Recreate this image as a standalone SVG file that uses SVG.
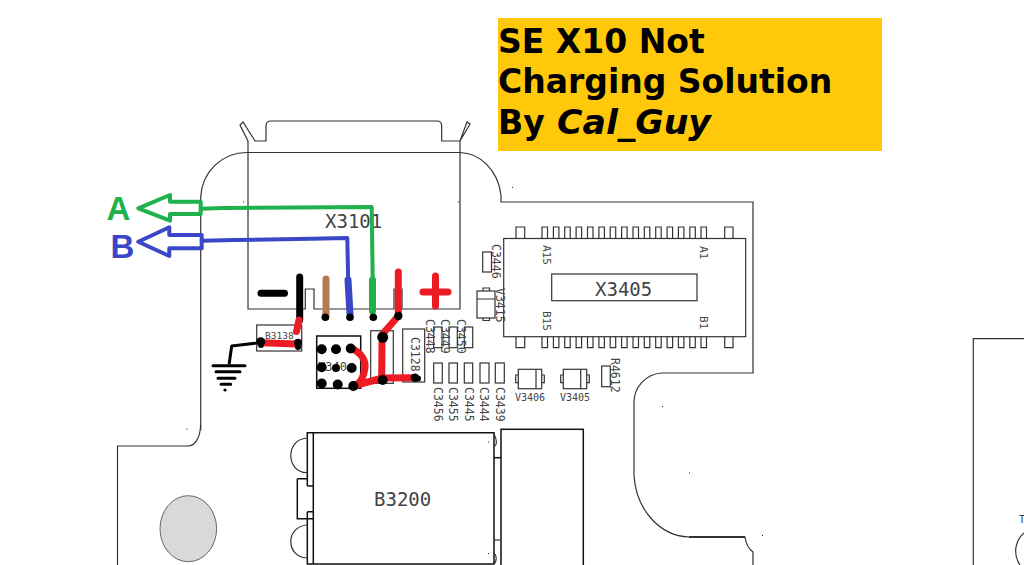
<svg xmlns="http://www.w3.org/2000/svg" width="1024" height="565" viewBox="0 0 1024 565">
<style>
.l{fill:none;stroke:#333;stroke-width:1.2}
.d{fill:none;stroke:#111;stroke-width:1.5}
.m{font-family:"DejaVu Sans Mono","Liberation Mono",monospace;fill:#444}
.big{font-size:19px}
.s{font-size:11.5px}
.t{font-family:"DejaVu Sans","Liberation Sans",sans-serif;font-weight:bold;font-size:33px;fill:#000}
.L{font-family:"Liberation Sans",Arial,sans-serif;font-weight:bold;font-size:33px}
.w{fill:none;stroke-linecap:round;stroke-linejoin:round}
.r{stroke:#ed1c24;stroke-width:7}
.k{stroke:#000;stroke-width:7}
.g{stroke:#1fb14c}
.b{stroke:#3a48c8}
</style>
<rect width="1024" height="565" fill="#fff"/>
<g id="board">
<path class="l" d="M200.7 430V197C202 172 222 152 248 152.5H460C480 153 498 170 501 195V202H753V373H662C645 374 634 388 634 402V475C636 510 660 536 689 537H745C746 544 749 549 753 552V565"/>
<path class="d" d="M689 537H745"/>
<path class="l" d="M200.7 425C200 438 195 446 188 446H117.5V565"/>
<path class="l" d="M973.3 565V338.7H1024"/>
<path class="l" d="M1024 533C1016 540 1012 553 1020 565"/>
<text x="1019" y="523" class="m" font-size="10">T</text>
<ellipse cx="188.3" cy="528.7" rx="28.3" ry="33" fill="#d9d9d9" stroke="#666" stroke-width="1"/>
<g fill="#222">
<rect x="662" y="406" width="1" height="1"/><rect x="689" y="472.5" width="1" height="1"/><rect x="762" y="535" width="1" height="1"/><rect x="243" y="201.5" width="1" height="1"/><rect x="458" y="201.5" width="1" height="1"/><rect x="186.5" y="428.5" width="1" height="1"/><rect x="488" y="441.5" width="1" height="1"/><rect x="488" y="553" width="1" height="1"/><rect x="512" y="187" width="1" height="1"/>
</g>
</g>
<g id="X3101">
<path class="l" d="M248 152.5H460V309H402V289H394V309H314V289H305.3V309H248Z"/>
<path class="l" d="M248 152.5V141"/><path class="l" d="M460 152.5V141"/>
<path class="l" d="M248 141L240 125L243 122L255 141H266V126Q266 121 271 121H437Q441.7 121 441.7 126V141H460L467 122L470 124L460 141"/>
<text x="325" y="228" class="m big">X3101</text>
</g>
<g id="X3405">
<rect class="l" x="503.7" y="238.5" width="242" height="98.2"/>
<rect class="l" x="551.7" y="274" width="145.3" height="26.7"/>
<text x="595" y="296" class="m big">X3405</text>
<path class="l" d="M516 238.5V227H524.7V238.5M516 336.7V347.7H524.7V336.7M724.7 238.5V227H733V238.5M724.7 336.7V347.7H733V336.7"/>
<path class="l" d="M542 238.5V227H547.5V238.5M553.4 238.5V227H558.9V238.5M564.7 238.5V227H570.2V238.5M576.1 238.5V227H581.6V238.5M587.5 238.5V227H593V238.5M598.9 238.5V227H604.4V238.5M610.2 238.5V227H615.7V238.5M621.6 238.5V227H627.1V238.5M633 238.5V227H638.5V238.5M644.3 238.5V227H649.8V238.5M655.7 238.5V227H661.2V238.5M667.1 238.5V227H672.6V238.5M678.4 238.5V227H683.9V238.5M689.8 238.5V227H695.3V238.5M701 238.5V227H706.5V238.5"/>
<path class="l" d="M542 336.7V347.7H547.5V336.7M553.4 336.7V347.7H558.9V336.7M564.7 336.7V347.7H570.2V336.7M576.1 336.7V347.7H581.6V336.7M587.5 336.7V347.7H593V336.7M598.9 336.7V347.7H604.4V336.7M610.2 336.7V347.7H615.7V336.7M621.6 336.7V347.7H627.1V336.7M633 336.7V347.7H638.5V336.7M644.3 336.7V347.7H649.8V336.7M655.7 336.7V347.7H661.2V336.7M667.1 336.7V347.7H672.6V336.7M678.4 336.7V347.7H683.9V336.7M689.8 336.7V347.7H695.3V336.7M701 336.7V347.7H706.5V336.7"/>
<text transform="translate(543 245) rotate(90)" class="m" font-size="11">A15</text>
<text transform="translate(543 311) rotate(90)" class="m" font-size="11">B15</text>
<text transform="translate(700 246) rotate(90)" class="m" font-size="11">A1</text>
<text transform="translate(700 316) rotate(90)" class="m" font-size="11">B1</text>
</g>
<g id="B3200">
<path class="d" d="M307.3 486V432.7H494V564H307.3V511.7"/>
<path class="d" d="M313.3 432.7V564M307.3 486H313.3M307.3 511.7H313.3M297.3 478.7H307.3M297.3 478.7V518.7H313"/>
<path class="l" d="M306.7 438C285 440 286 472 306.7 472.7M306.7 525C285 527 286 557 306.7 558M494 434C497 440 497 445 494 447M494 553C497 556 497 561 494 564"/>
<rect class="d" x="501" y="429.3" width="82.3" height="140"/>
<path class="d" d="M494 457.7H501"/><path class="l" d="M494 540H501"/>
<text x="374" y="506" class="m big">B3200</text>
</g>
<g id="B3138"><rect class="l" x="256.7" y="325" width="45" height="26"/><text x="265" y="339" class="m" font-size="9.5">B3138</text></g>
<g id="V3401"><rect class="d" x="316.7" y="336" width="44" height="52.3"/><text x="318" y="371" class="m" font-size="12">V340</text></g>
<g id="V3129"><rect class="l" x="370.7" y="330.7" width="22.6" height="52.6"/></g>
<g id="C3128"><rect class="l" x="402.7" y="329" width="22" height="53"/><text transform="translate(410.5 337) rotate(90)" class="m s">C3128</text></g>
<g id="C3446"><rect class="l" x="482.7" y="252" width="8.8" height="20"/><text transform="translate(492 244) rotate(90)" class="m s">C3446</text></g>
<g id="V3415"><rect class="l" x="477" y="291" width="18" height="27"/><path class="l" d="M477 299H495M483 291V288H489.5V291M483 318V320.5H489.5V318"/><text transform="translate(495.5 288) rotate(90)" class="m s">V3415</text></g>
<g id="C3448"><rect class="l" x="433.7" y="327" width="8.3" height="20.7"/><text transform="translate(426 319) rotate(90)" class="m s">C3448</text></g>
<g id="C3449"><rect class="l" x="449" y="327" width="8.3" height="20.7"/><text transform="translate(441.3 319) rotate(90)" class="m s">C3449</text></g>
<g id="C3450"><rect class="l" x="464.3" y="327" width="8.4" height="20.7"/><text transform="translate(456.7 319) rotate(90)" class="m s">C3450</text></g>
<g id="C3456"><rect class="l" x="433.7" y="363" width="8.6" height="20"/><text transform="translate(434 387) rotate(90)" class="m s">C3456</text></g>
<g id="C3455"><rect class="l" x="449" y="363" width="8.4" height="20"/><text transform="translate(449.3 387) rotate(90)" class="m s">C3455</text></g>
<g id="C3445"><rect class="l" x="464.3" y="363" width="8.4" height="20"/><text transform="translate(464.6 387) rotate(90)" class="m s">C3445</text></g>
<g id="C3444"><rect class="l" x="480" y="363" width="9" height="20"/><text transform="translate(480.4 387) rotate(90)" class="m s">C3444</text></g>
<g id="C3439"><rect class="l" x="495.3" y="363" width="9" height="20"/><text transform="translate(495.6 387) rotate(90)" class="m s">C3439</text></g>
<g id="V3406"><rect class="l" x="518.3" y="369.3" width="23.4" height="19.4"/><path class="l" d="M536 369.3V388.7M518.3 375H515.7V382.7H518.3M541.7 375H544.3V382.7H541.7"/><text x="515" y="401" class="m" font-size="10">V3406</text></g>
<g id="V3405"><rect class="l" x="563.3" y="369.3" width="23.4" height="19.4"/><path class="l" d="M580.7 369.3V388.7M563.3 375H560.7V382.7H563.3M586.7 375H589.3V382.7H586.7"/><text x="560" y="401" class="m" font-size="10">V3405</text></g>
<g id="R4612"><rect class="l" x="601.7" y="366" width="8.6" height="20.7"/><text transform="translate(611 358) rotate(90)" class="m s">R4612</text></g>
<g id="connectors">
<path class="w g" stroke-width="4" d="M200.7 208.7L223 208L371.7 207L372.7 280"/>
<path class="w g" stroke-width="7" d="M372.5 280V311"/>
<path class="w g" stroke-width="4" d="M138.3 208.3L170 195V201.7H200.7V214H170V220.7Z"/>
<path class="w b" stroke-width="4" d="M201.7 240.7L235 240L311.7 238.7L347.3 238L348.3 286"/>
<path class="w b" stroke-width="7" d="M348 280L350 314"/>
<path class="w b" stroke-width="4" d="M138.3 241.7L169.3 227.3V235H201.7V248.3H169.3V256Z"/>
<path class="w" stroke="#b57b50" stroke-width="7" d="M326 279V317"/>
<path class="w k" d="M299.7 277V320"/>
<path class="w k" d="M261 293.3H284.5"/>
<path class="w r" d="M398.3 272V314"/>
<path class="w r" d="M398.3 316L381.7 335"/>
<path class="w r" d="M382 343L381.7 376"/>
<path class="w r" d="M382.7 378L415 377.7"/>
<path class="w r" d="M353.3 386L382.7 378"/>
<path class="w r" d="M350.7 348.3C362 352 366 362 365 368C364 376 362 382 355 386"/>
<path class="w r" d="M299 320L296.5 331.5"/>
<path class="w r" d="M261.7 342.7L296.7 344"/>
<path class="w r" stroke-width="8" d="M423 292H448M435.5 276V306"/>
<path class="w" stroke="#000" stroke-width="3" d="M255 343.3L231.7 346L229.3 363"/>
<path class="w" stroke="#000" stroke-width="3" d="M213 365.7H245M216 371.7H240M218 378.3H235M221 384.3H230.7"/>
<g fill="#000">
<circle cx="225" cy="390" r="1.6"/>
<circle cx="325.3" cy="317.3" r="3.8"/><circle cx="350" cy="317.3" r="3.8"/><circle cx="373.3" cy="317.3" r="3.8"/><circle cx="398.3" cy="316" r="4.2"/>
<circle cx="382.7" cy="337.3" r="5.5"/><circle cx="382.7" cy="380" r="5"/><circle cx="415" cy="377.7" r="4.2"/><circle cx="418" cy="378.5" r="3"/>
<circle cx="260.7" cy="341.7" r="4.5"/><circle cx="261" cy="345" r="3"/><circle cx="298" cy="342.7" r="4"/><circle cx="298" cy="347" r="3"/>
<circle cx="321.7" cy="349.3" r="5"/><circle cx="336" cy="349.3" r="5"/><circle cx="350.7" cy="348.5" r="5"/>
<circle cx="321.7" cy="367.3" r="5"/><circle cx="336" cy="368" r="4"/><circle cx="351.7" cy="368" r="5"/>
<circle cx="321.7" cy="383.5" r="5"/><circle cx="337.7" cy="384.5" r="5"/><circle cx="353.3" cy="386" r="5"/>
</g>
</g>
<g id="labels">
<text x="106.5" y="220" class="L" fill="#1fb14c">A</text>
<text x="110.5" y="258.3" class="L" fill="#3a48c8">B</text>
</g>
<g id="title">
<rect x="498" y="18" width="384" height="133" fill="#ffc80b"/>
<text x="498" y="53" class="t">SE X10 Not</text>
<text x="498" y="93" class="t">Charging Solution</text>
<text x="498" y="134" class="t">By</text>
<text x="557" y="134" class="t" font-style="italic" textLength="154" lengthAdjust="spacingAndGlyphs">Cal_Guy</text>
</g>
</svg>
